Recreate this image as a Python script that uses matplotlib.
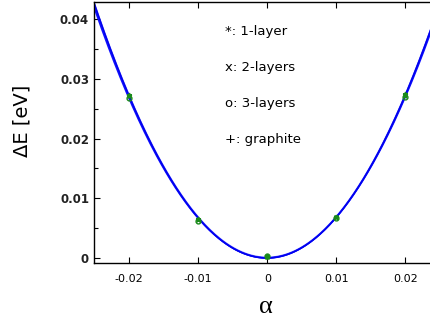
import matplotlib
matplotlib.use("Agg")
import matplotlib.pyplot as plt
import numpy as np

# strain values and energy differences
alpha = [-0.02, -0.01, 0.0, 0.01, 0.02]
de_1layer = [0.0273, 0.0066, 0.0003, 0.0069, 0.0274]
de_2layers = [0.0271, 0.0064, 0.0002, 0.0068, 0.0272]
de_3layers = [0.0268, 0.0062, 0.0004, 0.0067, 0.0270]
de_graphite = [0.0272, 0.0065, 0.0001, 0.0069, 0.0273]

series = [
    ("*", de_1layer),
    ("x", de_2layers),
    ("o", de_3layers),
    ("+", de_graphite),
]
labels = ["*: 1-layer", "x: 2-layers", "o: 3-layers", "+: graphite"]
curve_colors = ["#6a6aff", "#3030ff", "#1010ff", "#0000ee"]

fig = plt.figure(figsize=(4.31, 3.21), dpi=100)
ax = fig.add_axes([0.218, 0.181, 0.79, 0.813])

xs = np.linspace(-0.026, 0.026, 300)
for (marker, de), col in zip(series, curve_colors):
    coef = np.polyfit(alpha, de, 2)
    ax.plot(xs, np.polyval(coef, xs), color=col, lw=1.1, zorder=2)
for marker, de in series:
    ax.plot(alpha, de, linestyle="none", marker=marker, color="#1a8a1a",
            ms=3.5, mew=1.0, mfc="none", zorder=3)

ax.set_xlim(-0.0251, 0.0242)
ax.set_ylim(-0.00084, 0.0429)
ax.set_xticks([-0.02, -0.01, 0.0, 0.01, 0.02])
ax.set_xticklabels(["-0.02", "-0.01", "0", "0.01", "0.02"], fontsize=8)
ax.set_yticks([0, 0.01, 0.02, 0.03, 0.04])
ax.set_yticks([0.005, 0.015, 0.025, 0.035], minor=True)
ax.set_yticklabels(["0", "0.01", "0.02", "0.03", "0.04"],
                   fontsize=8.5, fontweight="bold", color="#222222")
ax.tick_params(which="both", direction="in", top=True, right=False,
               length=4, width=0.8)
ax.tick_params(axis="x", pad=8)
ax.tick_params(which="minor", length=3)
ax.spines["right"].set_visible(False)
for s in ["left", "bottom", "top"]:
    ax.spines[s].set_linewidth(1.0)

ax.set_xlabel("α", fontsize=19, family="Liberation Serif")
ax.set_ylabel("ΔE [eV]", fontsize=14)
ax.yaxis.set_label_coords(-0.182, 0.544)
ax.xaxis.set_label_coords(0.505, -0.128)

for i, lab in enumerate(labels):
    ax.text(0.385, 0.885 - i * 0.138, lab, transform=ax.transAxes,
            fontsize=9.5, va="center", ha="left")

fig.savefig("out.png", dpi=100)
